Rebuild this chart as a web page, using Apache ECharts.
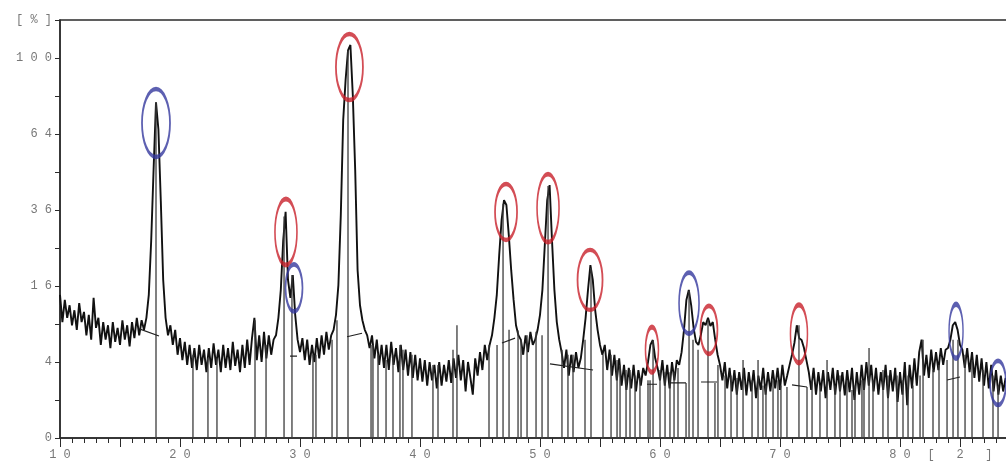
<!DOCTYPE html>
<html>
<head>
<meta charset="utf-8">
<script src="https://cdn.jsdelivr.net/npm/echarts@6/dist/echarts.min.js"></script>
<style>
html, body { margin: 0; padding: 0; background: #fff; overflow: hidden; }
#main { width: 1006px; height: 464px; }
</style>
</head>
<body>
<div id="main"></div>
<script>
// scan: intensity [%] every 0.2 deg from 10.0
var scanStart = 10, scanStep = 0.2;
var counts = [
	14.2, 9.3, 13.2, 10.0, 12.2,   8.8, 11.3, 8.1, 12.6, 9.3,
	11.0, 7.3, 10.5, 6.7, 13.6,    8.4, 10.0, 6.0, 9.3, 6.7,
	8.8, 5.6, 9.3, 6.4, 8.4,       6.0, 9.6, 6.7, 8.8, 5.8,
	9.3, 6.9, 10.0, 7.3, 9.6,      8.1, 10.0, 14.2, 27, 50,
	78, 66, 39, 17.3, 10.0,        7.3, 8.8, 6.0, 8.1, 4.8,
	6.9, 4.2, 6.4, 3.7, 6.0,       3.4, 5.6, 3.2, 6.0, 3.7,
	5.4, 3.0, 5.6, 3.4, 6.2,       3.7, 5.4, 3.0, 6.0, 3.4,
	5.6, 3.2, 6.4, 3.6, 5.4,       3.0, 6.0, 3.4, 6.7, 3.7,
	6.9, 10.0, 4.2, 7.3, 4.0,      7.8, 4.4, 7.3, 4.8, 6.7,
	7.3, 10.0, 15.2, 27, 35.4,     17.3, 13.6, 18.4, 10.5, 6.7,
	5.1, 6.9, 4.2, 6.7, 3.7,       6.0, 4.0, 6.9, 4.4, 7.3,
	4.8, 7.8, 5.4, 7.3, 8.1,       10.5, 16.2, 34.4, 70, 88.8,
	104, 107, 81.5, 49.7, 19.5,    12.2, 9.6, 8.1, 7.3, 5.6,
	7.3, 4.4, 6.7, 3.7, 6.0,       3.4, 6.0, 3.2, 6.4, 3.7,
	5.6, 3.0, 6.0, 3.2, 5.4,       2.7, 5.1, 2.5, 4.8, 2.3,
	4.4, 2.2, 4.2, 1.9, 4.0,       2.3, 3.7, 1.7, 4.0, 1.9,
	3.7, 2.2, 4.2, 2.1, 4.4,       2.5, 4.8, 2.3, 4.2, 1.5,
	4.0, 2.5, 1.3, 4.4, 2.7,       5.1, 3.2, 6.0, 4.2, 6.0,
	7.3, 10.0, 14.2, 23.2, 32.9,   39.2, 37.6, 28.5, 19.5, 13.2,
	8.8, 7.3, 6.7, 4.8, 7.3,       5.1, 7.8, 6.0, 6.7, 8.1,
	10.5, 15.2, 25.8, 39.2, 44.3,  27.1, 15.2, 9.3, 6.7, 5.1,
	3.4, 5.4, 2.7, 4.8, 3.0,       5.1, 3.4, 4.4, 6.7, 10.0,
	15.2, 20.7, 17.3, 11.3, 8.1,   6.0, 4.8, 6.0, 3.2, 5.4,
	2.7, 4.8, 2.3, 4.4, 1.9,       3.7, 1.6, 3.4, 1.7, 3.7,
	1.5, 3.2, 1.9, 3.4, 2.7,       4.0, 6.0, 6.65, 4.4, 3.4,
	2.3, 4.2, 1.9, 3.7, 1.7,       4.0, 2.3, 4.2, 3.7, 5.1,
	8.1, 13.2, 15.2, 12.2, 8.4,    6.4, 6.0, 7.3, 9.3, 8.8,
	10.0, 8.7, 9.3, 6.7, 4.8,      3.7, 2.3, 4.0, 1.7, 3.4,
	1.5, 3.2, 1.3, 3.0, 1.6,       3.4, 1.25, 3.0, 1.5, 3.2,
	1.1, 2.7, 1.6, 3.4, 1.3,       3.0, 1.5, 3.2, 1.7, 3.4,
	1.6, 3.7, 1.9, 2.7, 3.7,       4.8, 6.25, 8.8, 6.9, 6.65,
	5.6, 4.2, 3.0, 1.6, 3.4,       1.3, 3.0, 1.5, 3.2, 1.1,
	3.0, 1.6, 3.4, 1.3, 3.2,       1.5, 3.0, 1.25, 3.2, 1.45,
	3.4, 1.0, 3.0, 1.3, 3.7,       1.6, 4.0, 1.9, 3.7, 1.5,
	3.4, 1.3, 3.0, 1.6, 3.7,       1.1, 3.2, 1.5, 3.4, 0.9,
	3.0, 1.3, 4.0, 0.75, 3.7,      1.7, 4.4, 1.9, 5.1, 6.7,
	2.7, 4.8, 2.5, 5.4, 3.0,       5.1, 3.2, 5.6, 3.7, 5.4,
	5.6, 6.7, 8.8, 9.3, 8.1,       6.0, 5.4, 3.4, 5.6, 3.0,
	5.1, 2.5, 4.8, 2.2, 4.4,       1.9, 4.0, 1.7, 3.7, 1.5,
	3.2, 1.3, 2.7, 1.5, 2.5
];

// reference pattern lines (2theta, intensity %)
var stickAngles = [
	18.0, 21.08, 22.33, 23.08, 26.25, 27.17, 28.67, 29.33, 31.08, 31.33,
	32.67, 33.08, 34.0, 35.92, 36.08, 36.5, 37.17, 37.75, 38.33, 38.58,
	39.33, 41.08, 41.5, 42.75, 43.08, 45.75, 46.42, 46.92, 47.42, 48.17,
	48.42, 48.92, 49.67, 50.17, 50.67, 51.83, 52.33, 52.75, 53.75, 54.25,
	55.25, 55.92, 56.42, 56.67, 57.17, 57.5, 57.92, 58.33, 59.0, 59.17,
	59.42, 60.0, 60.42, 60.83, 61.17, 61.5, 62.17, 62.42, 62.75, 63.17,
	64.0, 64.58, 64.83, 65.42, 65.92, 66.42, 66.92, 67.67, 68.17, 68.58,
	68.83, 69.42, 69.83, 70.08, 70.58, 71.58, 72.25, 72.67, 73.33, 73.92,
	74.58, 75.0, 75.58, 76.0, 76.25, 76.83, 77.0, 77.42, 77.75, 78.58,
	79.0, 79.75, 80.25, 80.67, 81.08, 81.67, 81.92, 82.75, 83.25, 83.92,
	84.42, 84.83, 85.42, 86.0, 86.92, 87.75, 88.17
];
var stickHeights = [
	78, 4.8, 4.4, 4.4, 9.6, 6.0, 34, 18.4, 4.8, 4.8,
	6.7, 9.6, 104, 6.0, 6.0, 4.8, 4.2, 4.8, 6.0, 5.4,
	4.8, 3.7, 3.7, 5.4, 8.8, 6.0, 6.0, 38, 8.1, 8.0,
	6.7, 7.3, 7.8, 7.3, 44, 5.4, 4.8, 4.8, 6.7, 20,
	4.8, 4.8, 4.2, 3.7, 3.2, 3.2, 2.7, 2.5, 2.3, 2.3,
	6.6, 3.2, 3.0, 3.0, 3.0, 3.4, 2.1, 15, 6.7, 5.4,
	9.6, 2.1, 3.7, 2.7, 2.7, 2.5, 4.2, 2.3, 4.2, 1.9,
	1.9, 2.3, 2.3, 1.9, 1.8, 8.8, 1.8, 2.3, 1.9, 4.2,
	1.9, 2.7, 2.3, 1.6, 1.9, 2.3, 2.3, 5.6, 2.3, 3.2,
	2.7, 2.7, 2.3, 2.7, 1.9, 2.7, 6.7, 3.2, 3.7, 4.2,
	6.7, 6.7, 4.8, 4.2, 3.2, 2.7, 1.9
];

// background fit pieces under peaks
var baseSegments = [
	[[16.67, 8.2], [18.25, 7.2]],
	[[29.17, 4.65], [29.75, 4.65]],
	[[33.92, 7.1], [35.17, 7.6]],
	[[46.83, 6.25], [47.92, 6.9]],
	[[50.83, 3.8], [54.42, 3.2]],
	[[58.92, 2.0], [59.75, 2.0]],
	[[60.83, 2.1], [62.17, 2.1]],
	[[63.42, 2.17], [64.75, 2.17]],
	[[71.0, 1.95], [72.25, 1.8]],
	[[83.92, 2.33], [85.0, 2.58]]
];

// marked peaks (ring centre: 2theta, intensity %)
var redPeaks = [[28.83, 29.4], [34.12, 95.3], [47.17, 35.4], [50.67, 36.6], [54.17, 17.3], [59.33, 5.4], [64.08, 8.1], [71.58, 7.5]];
var bluePeaks = [[18.0, 68.7], [29.5, 15.6], [62.42, 12.6], [84.67, 7.9], [88.17, 2.1]];
var redRingSize = [[22, 66], [27, 66], [22, 56], [22, 68], [25, 60], [13, 45], [17, 48], [17, 58]];
var blueRingSize = [[28, 68], [17, 47], [20, 61], [14, 54], [16, 44]];

var xLabelTicks = [10, 20, 30, 40, 50, 60, 70, 80];
var xUnitAt = 85;

function spaced(s) { return String(s).split('').join(' '); }
function sq(v) { return Math.sqrt(v); }

var trace = counts.map(function (c, i) {
	return [+(scanStart + i * scanStep).toFixed(2), sq(c)];
});
var sticks = [];
stickAngles.forEach(function (a, i) {
	sticks.push([a, 0], [a, sq(stickHeights[i])], [a, '-']);
});
var base = [];
baseSegments.forEach(function (seg) {
	base.push([seg[0][0], sq(seg[0][1])], [seg[1][0], sq(seg[1][1])], [seg[1][0], '-']);
});

var labelStyle = { color: '#777', fontFamily: 'Liberation Mono', fontSize: 12 };
var axisColor = '#2b2b2b';

var myChart = echarts.init(document.getElementById('main'));

myChart.setOption({
	animation: false,
	grid: {
		left: 60, width: 960, top: 20, bottom: 26,
		outerBoundsMode: 'none', containLabel: false,
		show: true, borderColor: axisColor, borderWidth: 1.5
	},
	xAxis: {
		type: 'value', min: 10, max: 90, interval: 5,
		axisLine: { show: true, lineStyle: { color: axisColor, width: 1.5 } },
		axisTick: { show: true, length: 9, lineStyle: { color: axisColor } },
		minorTick: { show: true, splitNumber: 5, length: 5, lineStyle: { color: axisColor } },
		splitLine: { show: false },
		axisLabel: Object.assign({
			margin: 11,
			formatter: function (v) {
				if (v === xUnitAt) return '[   2   ]';
				return xLabelTicks.indexOf(v) >= 0 ? spaced(v) : '';
			}
		}, labelStyle)
	},
	yAxis: {
		type: 'value', min: 0, max: 11, interval: 1,
		axisLine: { show: true, lineStyle: { color: axisColor, width: 1.5 } },
		axisTick: { show: true, length: 5, lineStyle: { color: axisColor } },
		splitLine: { show: false },
		axisLabel: Object.assign({
			margin: 8,
			formatter: function (v) {
				if (v === 11) return '[ % ]';
				return v % 2 === 0 ? spaced(v * v) : '';
			}
		}, labelStyle)
	},
	series: [
		{
			name: 'scan', type: 'line', data: trace, z: 2,
			showSymbol: false, symbol: 'none',
			lineStyle: { color: '#111', width: 1.9 }
		},
		{
			name: 'pattern', type: 'line', data: sticks, z: 3,
			showSymbol: false, symbol: 'none', connectNulls: false,
			lineStyle: { color: '#3c3c3c', width: 1.3 }
		},
		{
			name: 'background', type: 'line', data: base, z: 3,
			showSymbol: false, symbol: 'none', connectNulls: false,
			lineStyle: { color: '#222', width: 1.2 }
		},
		{
			name: 'red', type: 'scatter', z: 5, symbol: 'circle',
			data: redPeaks.map(function (p) { return [p[0], sq(p[1])]; }),
			symbolSize: function (v, p) { return redRingSize[p.dataIndex]; },
			itemStyle: { color: 'rgba(0,0,0,0)', borderColor: '#c8202a', borderWidth: 2.8 }
		},
		{
			name: 'blue', type: 'scatter', z: 5, symbol: 'circle',
			data: bluePeaks.map(function (p) { return [p[0], sq(p[1])]; }),
			symbolSize: function (v, p) { return blueRingSize[p.dataIndex]; },
			itemStyle: { color: 'rgba(0,0,0,0)', borderColor: '#34389e', borderWidth: 2.8 }
		}
	]
});
</script>
</body>
</html>
